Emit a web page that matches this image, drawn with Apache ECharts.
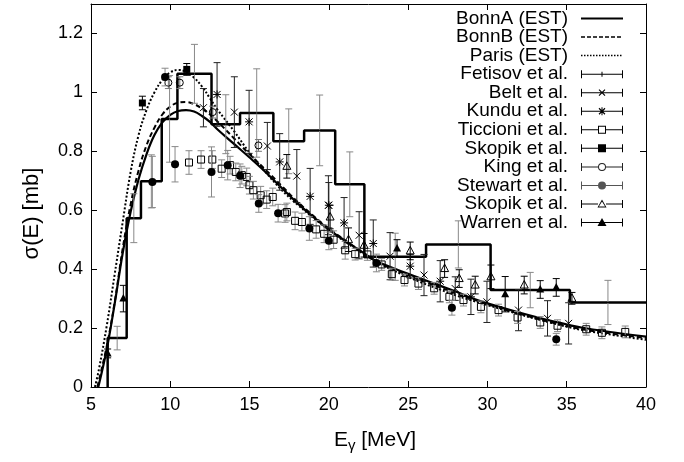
<!DOCTYPE html>
<html><head><meta charset="utf-8">
<script src="https://cdn.jsdelivr.net/npm/echarts@6/dist/echarts.min.js"></script>
<style>html,body{margin:0;padding:0;background:#fff}#c{width:684px;height:462px}</style>
</head><body><div id="c"></div>
<script>
// ---------- data ----------
const bonnAX = [5.46,6,6.5,7,7.5,8,8.5,9,9.5,10,10.5,11,11.5,12,12.5,13,14,15,16,17,18,19,20,21,22,23,24,25,26,27,28,29,30,32,34,36,38,40];
const bonnAY = [0,0.13,0.285,0.455,0.595,0.705,0.79,0.855,0.898,0.924,0.937,0.94,0.935,0.92,0.9,0.873,0.826,0.779,0.73,0.677,0.625,0.578,0.534,0.497,0.462,0.427,0.405,0.384,0.364,0.344,0.324,0.302,0.284,0.253,0.225,0.201,0.185,0.171];
const bonnBX = [5.4,6,6.5,7,7.5,8,8.5,9,9.5,10,10.5,11,11.5,12,12.5,13,14,15,16,17,18,19,20,21,22,23,24,25,26,27,28,29,30,32,34,36,38,40];
const bonnBY = [0,0.14,0.29,0.47,0.62,0.735,0.82,0.88,0.925,0.952,0.965,0.967,0.96,0.945,0.925,0.9,0.845,0.79,0.738,0.684,0.63,0.582,0.538,0.499,0.462,0.426,0.401,0.379,0.358,0.338,0.318,0.299,0.281,0.249,0.22,0.196,0.18,0.166];
const parisX = [5.25,5.5,6,6.5,7,7.5,8,8.5,9,9.5,10,10.5,11,11.5,12,12.5,13,14,15,16,17,18,19,20,21,22,23,24,25,26,27,28,29,30,32,34,36,38,40];
const parisY = [0,0.06,0.21,0.385,0.56,0.73,0.855,0.94,1.0,1.042,1.068,1.076,1.07,1.05,1.02,0.98,0.94,0.87,0.795,0.73,0.67,0.62,0.575,0.533,0.494,0.458,0.425,0.397,0.373,0.351,0.331,0.311,0.294,0.278,0.247,0.218,0.193,0.176,0.16];

const fetisovEdges  = [6.05,7.25,8.15,9.46,10.45,12.6,14.4,16.5,18.44,20.4,22.24,26.13,30.2,35.2,40];
const fetisovValues = [0.166,0.573,0.698,0.91,1.063,0.892,0.93,0.834,0.871,0.688,0.442,0.484,0.329,0.287];
const fetisovErrors = [0.04,0.083,0.09,0.147,0.1,0.1,0.15,0.11,0.12,0.11,0.08,0.08,0.06,0.075];

// [E, sigma, error]
const belt = [[12.09,0.948,0.065],[14.04,0.933,0.12],[16.12,0.818,0.08],[17.98,0.716,0.09],[19.97,0.617,0.1],[21.91,0.515,0.08],[23.86,0.444,0.08],[26.0,0.38,0.07],[27.97,0.334,0.04],[29.97,0.289,0.07],[31.96,0.261,0.07],[33.79,0.233,0.06],[35.12,0.216,0.07]];
const kundu = [[12.95,0.993,0.108],[14.97,0.9,0.107],[16.9,0.764,0.096],[18.82,0.647,0.095],[20.0,0.617,0.077],[20.96,0.557,0.086],[22.8,0.487,0.08],[25.13,0.41,0.04],[27.02,0.359,0.07],[28.96,0.306,0.06]];
const ticcioni = [[11.18,0.762,0.04],[11.94,0.772,0.03],[12.65,0.772,0.03],[13.24,0.741,0.03],[13.77,0.753,0.03],[14.13,0.73,0.03],[14.51,0.719,0.03],[14.82,0.713,0.03],[14.99,0.685,0.03],[15.24,0.668,0.03],[15.7,0.651,0.03],[16.08,0.636,0.03],[16.46,0.645,0.03],[17.24,0.589,0.03],[17.35,0.594,0.03],[17.87,0.564,0.03],[18.3,0.56,0.03],[19.2,0.535,0.03],[19.7,0.52,0.03],[20.3,0.5,0.03],[21.03,0.464,0.03],[21.66,0.451,0.02],[22.43,0.45,0.02],[23.33,0.416,0.02],[23.97,0.383,0.02],[24.77,0.363,0.02],[25.65,0.351,0.02],[26.64,0.335,0.02],[27.6,0.306,0.02],[28.49,0.295,0.02],[29.59,0.272,0.02],[30.7,0.261,0.02],[31.9,0.236,0.02],[33.33,0.219,0.02],[34.42,0.208,0.02],[36.23,0.196,0.02],[37.22,0.184,0.02],[38.69,0.187,0.02]];
const skopikA = [[8.24,0.964,0.023],[11.04,1.078,0.02]];
const king = [[9.88,1.033,0.02],[10.6,1.033,0.02],[12.68,0.933,0.02],[15.56,0.82,0.02]];
const stewart = [[8.87,0.696,0.087],[9.67,1.052,0.03],[10.3,0.756,0.06],[12.6,0.73,0.085],[13.62,0.753,0.05],[14.4,0.717,0.04],[15.58,0.623,0.03],[16.8,0.59,0.03],[18.77,0.538,0.04],[20.0,0.496,0.03],[23.0,0.421,0.03],[27.76,0.269,0.025],[34.34,0.162,0.02]];
const skopikB = [[17.35,0.749,0.04],[20.08,0.577,0.04],[21.24,0.5,0.04],[22.22,0.481,0.04],[25.13,0.462,0.03],[27.3,0.402,0.03],[28.22,0.368,0.03],[29.23,0.346,0.03],[30.22,0.374,0.04],[32.32,0.346,0.03],[35.33,0.301,0.02]];
const warren = [[6.05,0.114,0.015],[7.04,0.3,0.045],[24.3,0.47,0.03],[31.12,0.315,0.06],[33.33,0.331,0.03],[34.34,0.338,0.03]];

// ---------- helpers ----------
const FONT = 'Liberation Sans, Arial, Helvetica, sans-serif';
const zip = (xs, ys) => xs.map((x, i) => [x, ys[i]]);

function R(x1,y1,x2,y2){ return `M${x1},${y1} L${x2},${y1} L${x2},${y2} L${x1},${y2} Z `; }
function RC(x1,y1,x2,y2){ return `M${x1},${y1} L${x1},${y2} L${x2},${y2} L${x2},${y1} Z `; }
const BASE = 'path://M0,0 M50,10 ';
function lineIcon(kind){
  let p = BASE;
  if (kind === 'solid') p += R(8,4,50,6);
  else if (kind === 'dashed') { for (let x=8; x<50; x+=6) p += R(x,4.2,Math.min(x+4,50),5.8); }
  else { for (let x=8; x<49.5; x+=3) p += R(x,4.25,x+1.5,5.75); }
  return p;
}
function errIcon(m){
  let p = BASE + R(8,1,9,9) + R(49,1,50,9);
  const open = (m === 'osquare' || m === 'ocircle' || m === 'otriangle');
  p += open ? (R(9,4.5,25,5.5) + R(33,4.5,49,5.5)) : R(9,4.5,49,5.5);
  const d1 = 'M25.6,2.4 L26.4,1.6 L32.4,7.6 L31.6,8.4 Z ';
  const d2 = 'M31.6,1.6 L32.4,2.4 L26.4,8.4 L25.6,7.6 Z ';
  switch (m) {
    case 'plus': p += R(28.5,2.5,29.5,7.5); break;
    case 'cross': p += d1 + d2; break;
    case 'star': p += d1 + d2 + R(28.5,1,29.5,9); break;
    case 'osquare': p += R(25,1,33,9) + RC(26,2,32,8); break;
    case 'fsquare': p += R(25,1,33,9); break;
    case 'ocircle': p += 'M33,5 A4,4 0 1,1 25,5 A4,4 0 1,1 33,5 Z M32,5 A3,3 0 1,0 26,5 A3,3 0 1,0 32,5 Z '; break;
    case 'fcircle': p += 'M33,5 A4,4 0 1,1 25,5 A4,4 0 1,1 33,5 Z '; break;
    case 'otriangle': p += 'M29,0.5 L33.5,8.5 L24.5,8.5 Z M29,2.6 L25.9,7.6 L32.1,7.6 Z '; break;
    case 'ftriangle': p += 'M29,0.5 L33.5,8.5 L24.5,8.5 Z '; break;
  }
  return p;
}

function ln(x1,y1,x2,y2,c){ return {type:'line', shape:{x1,y1,x2,y2}, style:{stroke:c||'#000', lineWidth:1}}; }
function markerShapes(m, x, y){
  const s = 3.5;
  switch (m) {
    case 'plus': return [ln(x-2.5,y,x+2.5,y)];
    case 'cross': return [ln(x-s,y-s,x+s,y+s), ln(x-s,y+s,x+s,y-s)];
    case 'star': return [ln(x-s,y-s,x+s,y+s), ln(x-s,y+s,x+s,y-s), ln(x,y-s-0.5,x,y+s+0.5), ln(x-s-0.5,y,x+s+0.5,y)];
    case 'osquare': return [{type:'rect', shape:{x:x-s,y:y-s,width:2*s,height:2*s}, style:{stroke:'#000', fill:'none', lineWidth:1}}];
    case 'fsquare': return [{type:'rect', shape:{x:x-s,y:y-s,width:2*s,height:2*s}, style:{fill:'#000'}}];
    case 'ocircle': return [{type:'circle', shape:{cx:x,cy:y,r:3.5}, style:{stroke:'#000', fill:'none', lineWidth:1}}];
    case 'fcircle': return [{type:'circle', shape:{cx:x,cy:y,r:4}, style:{fill:'#000'}}];
    case 'otriangle': return [{type:'polygon', shape:{points:[[x,y-4.5],[x+4,y+3],[x-4,y+3]]}, style:{stroke:'#000', fill:'none', lineWidth:1}}];
    case 'ftriangle': return [{type:'polygon', shape:{points:[[x,y-4.5],[x+4,y+3],[x-4,y+3]]}, style:{fill:'#000'}}];
  }
  return [];
}
function errRender(m, barColor){
  return function(params, api){
    const x = api.value(0), y = api.value(1), e = api.value(2);
    const c = api.coord([x, y]), t = api.coord([x, y + e]), b = api.coord([x, y - e]);
    const w = 3.5;
    const children = [
      ln(c[0], t[1], c[0], b[1], barColor),
      ln(c[0]-w, t[1], c[0]+w, t[1], barColor),
      ln(c[0]-w, b[1], c[0]+w, b[1], barColor)
    ].concat(markerShapes(m, c[0], c[1]));
    return {type:'group', children};
  };
}
function errSeries(name, data, m, barColor){
  return {type:'custom', name, data, encode:{x:0, y:1}, renderItem: errRender(m, barColor), clip:true, z:5, itemStyle:{color:'#000'}};
}

// histogram built from edges/values
const histData = [[fetisovEdges[0], 0]];
fetisovValues.forEach((v, i) => histData.push([fetisovEdges[i], v]));
histData.push([fetisovEdges[fetisovEdges.length-1], fetisovValues[fetisovValues.length-1]]);
const fetisovBars = fetisovValues.map((v, i) => [(fetisovEdges[i] + fetisovEdges[i+1]) / 2, v, fetisovErrors[i]]);

const legendItems = [
  ['BonnA (EST)', lineIcon('solid'), '#000'],
  ['BonnB (EST)', lineIcon('dashed'), '#000'],
  ['Paris (EST)', lineIcon('dotted'), '#000'],
  ['Fetisov et al.', errIcon('plus'), '#000'],
  ['Belt et al.', errIcon('cross'), '#000'],
  ['Kundu et al.', errIcon('star'), '#000'],
  ['Ticcioni et al.', errIcon('osquare'), '#000'],
  ['Skopik et al.', errIcon('fsquare'), '#000'],
  ['King et al.', errIcon('ocircle'), '#222'],
  ['Stewart et al.', errIcon('fcircle'), '#555'],
  ['Skopik et al. ', errIcon('otriangle'), '#000'],
  ['Warren et al.', errIcon('ftriangle'), '#000']
];

const axisCommon = {
  axisLine: {onZero:false, lineStyle:{color:'#000', width:1}},
  axisTick: {inside:true, length:6, lineStyle:{color:'#000', width:1}},
  splitLine: {show:false}
};

const chart = echarts.init(document.getElementById('c'), null, {renderer:'canvas'});
chart.setOption({
  animation: false,
  backgroundColor: '#fff',
  grid: {left:91, right:38, top:4, bottom:75, containLabel:false},
  legend: {
    orient:'vertical', right:56, top:4, align:'right',
    itemWidth:50, itemHeight:10, itemGap:-0.45, selectedMode:false,
    textStyle:{fontFamily:FONT, fontSize:19, color:'#000', lineHeight:18},
    formatter: n => n.trim(),
    data: legendItems.map(([name, icon, col]) => ({name, icon, itemStyle:{color:col, borderWidth:0, opacity:1}}))
  },
  xAxis: [
    Object.assign({type:'value', min:5, max:40, interval:5, position:'bottom',
      axisLabel:{fontFamily:FONT, fontSize:18, color:'#000', margin:9},
      name:'{a|E}{s|γ}{a| [MeV]}', nameLocation:'middle', nameGap:40,
      nameTextStyle:{padding:[0,0,0,13], rich:{
        a:{fontFamily:FONT, fontSize:21, color:'#000', lineHeight:26, verticalAlign:'middle'},
        s:{fontFamily:FONT, fontSize:15, color:'#000', lineHeight:26, verticalAlign:'bottom'}}}
    }, axisCommon),
    Object.assign({type:'value', min:5, max:40, interval:5, position:'top', axisLabel:{show:false}}, axisCommon)
  ],
  yAxis: [
    Object.assign({type:'value', min:0, max:1.3, interval:0.2, position:'left',
      axisLabel:{fontFamily:FONT, fontSize:18, color:'#000', margin:8, showMaxLabel:false},
      name:'σ(E) [mb]', nameLocation:'middle', nameGap:48,
      nameTextStyle:{fontFamily:FONT, fontSize:22, color:'#000', padding:[0,36,0,0]}
    }, axisCommon),
    Object.assign({type:'value', min:0, max:1.3, interval:0.2, position:'right', axisLabel:{show:false}}, axisCommon)
  ],
  series: [
    {type:'line', name:'Fetisov hist', data:histData, step:'end', symbol:'none', lineStyle:{color:'#000', width:2.5}, clip:true, z:3},
    {type:'line', name:'BonnA (EST)', data:zip(bonnAX, bonnAY), smooth:0.4, symbol:'none', lineStyle:{color:'#000', width:2.2}, clip:true, z:4},
    {type:'line', name:'BonnB (EST)', data:zip(bonnBX, bonnBY), smooth:0.4, symbol:'none', lineStyle:{color:'#000', width:2, type:[5,3]}, clip:true, z:4},
    {type:'line', name:'Paris (EST)', data:zip(parisX, parisY), smooth:0.4, symbol:'none', lineStyle:{color:'#000', width:2, type:[2,2]}, clip:true, z:4},
    errSeries('Fetisov et al.', fetisovBars, 'plus', '#888'),
    errSeries('Belt et al.', belt, 'cross', '#222'),
    errSeries('Kundu et al.', kundu, 'star', '#222'),
    errSeries('Ticcioni et al.', ticcioni, 'osquare', '#888'),
    errSeries('Skopik et al.', skopikA, 'fsquare', '#000'),
    errSeries('King et al.', king, 'ocircle', '#777'),
    errSeries('Stewart et al.', stewart, 'fcircle', '#888'),
    errSeries('Skopik et al. ', skopikB, 'otriangle', '#000'),
    errSeries('Warren et al.', warren, 'ftriangle', '#000')
  ]
});
</script>
</body></html>
